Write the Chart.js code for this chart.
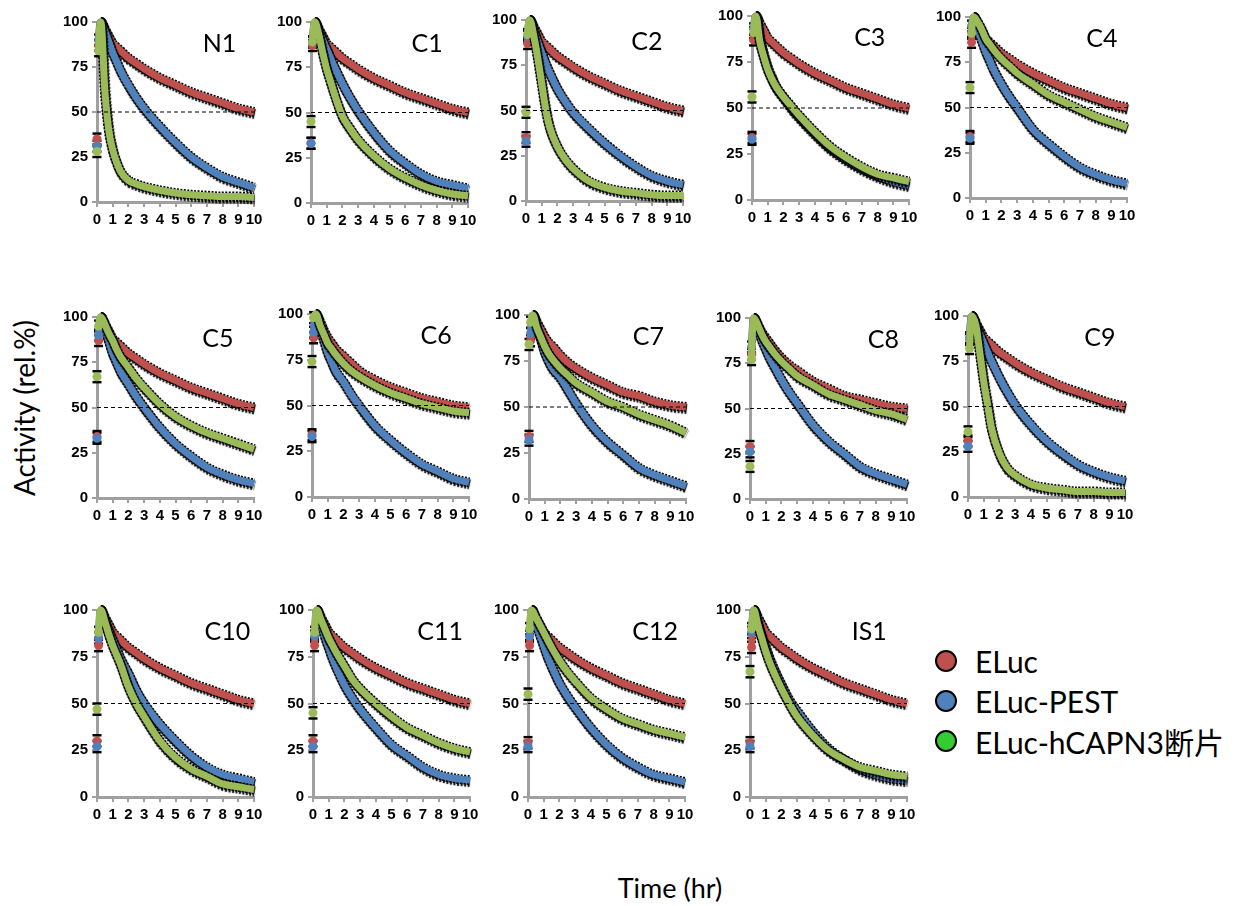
<!DOCTYPE html>
<html>
<head>
<meta charset="utf-8">
<script src="https://cdn.jsdelivr.net/npm/chart.js@4.4.1/dist/chart.umd.min.js"></script>
<style>
  body { margin: 0; background: #fff; width: 1239px; height: 906px; position: relative; overflow: hidden; font-family: Lato, "Liberation Sans", "Noto Sans CJK JP", sans-serif; }
  .panel { position: absolute; }
  .ytitle { position: absolute; left: 24px; top: 408px; transform: translate(-50%, -50%) rotate(-90deg); font-size: 28px; white-space: nowrap; color: #000; }
  .xtitle { position: absolute; left: 670px; top: 887px; transform: translate(-50%, -50%); font-size: 27px; white-space: nowrap; color: #000; }
  .legend { position: absolute; left: 935px; top: 641px; }
  .legend div { height: 40px; display: flex; align-items: center; font-size: 30px; white-space: nowrap; }
  .legend span.dot { display: inline-block; width: 18px; height: 18px; border: 2px solid #000; border-radius: 50%; margin-right: 18px; }
</style>
</head>
<body>
<div class="ytitle">Activity (rel.%)</div>
<div class="xtitle">Time (hr)</div>
<div class="legend" id="legend"></div>
<script>
// sampling times (hr) shared by every series
const hours = [0, 0.1, 0.25, 0.5, 0.75, 1, 1.25, 1.5, 2, 2.5, 3, 4, 5, 6, 7, 8, 9, 10];
const xTicks = [0, 1, 2, 3, 4, 5, 6, 7, 8, 9, 10];
const yTicks = [0, 25, 50, 75, 100];
const halfLine = [50, 50];
const capErr = [3, 3];

const seriesNames = ['ELuc', 'ELuc-PEST', 'ELuc-hCAPN3断片'];
const panelNames = ['N1', 'C1', 'C2', 'C3', 'C4', 'C5', 'C6', 'C7', 'C8', 'C9', 'C10', 'C11', 'C12', 'IS1'];

const n1Red   = [35, 87, 100, 96, 92, 88, 86, 84, 80, 77, 74, 69, 65, 61, 58, 55, 52, 50];
const n1Blue  = [31, 90, 100, 95, 89, 83, 78, 73, 65, 58, 52, 42, 33, 25, 19, 14, 11, 8];
const n1Green = [28, 84, 100, 62, 40, 29, 22, 17, 12, 10, 8.5, 6.5, 5, 4, 3.5, 3, 3, 2.5];

const c1Red   = [33, 87, 100, 96, 92, 88, 86, 84, 80, 77, 74, 69, 65, 61, 58, 55, 52, 50];
const c1Blue  = [33, 89, 100, 95, 90, 85, 80, 75, 66, 58, 51, 39, 29, 22, 16, 12, 10, 8];
const c1Green = [45, 89, 100, 93, 83, 74, 67, 60, 48, 41, 35, 26, 19, 14, 10, 7, 5, 4];

const c2Red   = [35, 87, 100, 96, 92, 88, 86, 84, 80, 77, 74, 69, 65, 61, 58, 55, 52, 50];
const c2Blue  = [33, 91, 100, 94, 88, 82, 76, 71, 62, 55, 49, 40, 32, 25, 19, 14, 11, 9];
const c2Green = [49, 92, 100, 91, 79, 65, 51, 41, 30, 23, 18, 11, 7.5, 5.5, 4.5, 3.5, 3, 3];

const c3Red   = [34, 87, 100, 96, 92, 88, 86, 84, 80, 77, 74, 69, 65, 61, 58, 55, 52, 50];
const c3Blue  = [33, 93, 100, 88, 79, 72, 67, 62, 56, 50, 45, 36, 28, 22, 17, 13, 10, 8];
const c3Green = [56, 91, 100, 86, 78, 71, 66, 62, 56, 51, 46, 37, 29, 23, 18, 14, 12, 10];

const c4Red   = [34, 86, 100, 96, 92, 88, 86, 84, 80, 77, 74, 69, 65, 61, 58, 55, 52, 50];
const c4Blue  = [33, 95, 100, 93, 87, 81, 76, 71, 63, 56, 50, 38, 30, 23, 17, 13, 10, 8];
const c4Green = [61, 91, 100, 97, 93, 88, 85, 82, 77, 73, 69, 63, 57, 53, 49, 45, 42, 39];

const c5Red   = [34, 87, 100, 96, 92, 88, 86, 84, 80, 77, 74, 69, 65, 61, 58, 55, 52, 50];
const c5Blue  = [33, 90, 100, 94, 87, 80, 75, 70, 63, 56, 50, 39, 30, 23, 17, 13, 10, 8];
const c5Green = [67, 95, 100, 96, 91, 87, 82, 78, 72, 66, 61, 52, 45, 40, 36, 33, 30, 27];

const c6Red   = [34, 87, 100, 96, 91, 87, 84, 81, 77, 73, 69, 64, 60, 57, 54, 52, 50, 49];
const c6Blue  = [33, 90, 100, 93, 86, 79, 74, 69, 63, 56, 50, 39, 31, 24, 18, 14, 10, 8];
const c6Green = [74, 98, 100, 94, 89, 84, 81, 78, 73, 69, 66, 61, 57, 54, 51, 49, 47, 46];

const c7Red   = [34, 86, 100, 96, 92, 88, 85, 83, 78, 74, 71, 66, 62, 58, 56, 53, 51, 50];
const c7Blue  = [32, 90, 100, 93, 87, 80, 75, 71, 66, 59, 52, 40, 31, 24, 17, 13, 10, 7];
const c7Green = [84, 96, 100, 93, 88, 83, 79, 76, 71, 67, 63, 58, 53, 50, 46, 43, 40, 36];

const c8Red   = [29, 80, 100, 96, 92, 89, 86, 83, 78, 74, 71, 65, 61, 57, 55, 53, 51, 50];
const c8Blue  = [26, 84, 100, 94, 88, 83, 78, 74, 66, 59, 53, 41, 32, 25, 18, 14, 11, 8];
const c8Green = [18, 77, 100, 96, 91, 87, 84, 81, 76, 72, 68, 63, 58, 55, 52, 49, 47, 44];

const c9Red   = [31, 87, 100, 96, 92, 88, 86, 84, 80, 77, 74, 69, 65, 61, 58, 55, 52, 50];
const c9Blue  = [28, 88, 100, 95, 90, 85, 80, 75, 66, 58, 51, 40, 31, 24, 18, 14, 11, 9];
const c9Green = [36, 82, 100, 95, 80, 64, 51, 38, 24, 16, 12, 7, 5, 4, 3, 3, 2.5, 2.5];

const c10Red   = [30, 81, 100, 96, 92, 88, 86, 84, 80, 77, 74, 69, 65, 61, 58, 55, 52, 50];
const c10Blue  = [27, 85, 100, 94, 89, 84, 79, 74, 66, 57, 50, 39, 30, 22, 16, 12, 10, 8];
const c10Green = [47, 88, 100, 94, 87, 81, 76, 71, 59, 50, 43, 30, 21, 15, 11, 7, 5.5, 4];

const c11Red   = [30, 81, 100, 96, 92, 88, 86, 84, 80, 77, 74, 69, 65, 61, 58, 55, 52, 50];
const c11Blue  = [27, 86, 100, 93, 86, 80, 74, 69, 60, 53, 47, 37, 28, 22, 16, 12, 10, 9];
const c11Green = [45, 88, 100, 95, 90, 85, 81, 77, 70, 63, 58, 50, 43, 37, 33, 29, 26, 24];

const c12Red   = [29, 81, 100, 96, 92, 88, 86, 84, 80, 77, 74, 69, 65, 61, 58, 55, 52, 50];
const c12Blue  = [27, 86, 100, 93, 87, 81, 75, 70, 61, 54, 48, 37, 28, 21, 16, 12, 10, 8];
const c12Green = [55, 90, 100, 96, 92, 88, 84, 80, 73, 67, 62, 53, 47, 42, 39, 36, 34, 32];

const is1Red   = [29, 80, 100, 96, 92, 88, 86, 84, 80, 77, 74, 69, 65, 61, 58, 55, 52, 50];
const is1Blue  = [27, 88, 100, 93, 86, 80, 74, 69, 60, 52, 46, 35, 26, 20, 15, 12, 10, 9];
const is1Green = [67, 90, 100, 92, 85, 78, 72, 67, 58, 50, 43, 33, 25, 20, 16, 14, 12, 11];

const panelSeries = [
  [n1Red, n1Blue, n1Green], [c1Red, c1Blue, c1Green], [c2Red, c2Blue, c2Green],
  [c3Red, c3Blue, c3Green], [c4Red, c4Blue, c4Green], [c5Red, c5Blue, c5Green],
  [c6Red, c6Blue, c6Green], [c7Red, c7Blue, c7Green], [c8Red, c8Blue, c8Green],
  [c9Red, c9Blue, c9Green], [c10Red, c10Blue, c10Green], [c11Red, c11Blue, c11Green],
  [c12Red, c12Blue, c12Green], [is1Red, is1Blue, is1Green]
];

const lineColors = ['#C0504D', '#4F81BD', '#9BBB59'];
const legendColors = ['#C0504D', '#4F81BD', '#33CC33'];

// [y-axis x, plot top, plot height, label x fraction]
const boxes = [
  [97, 21, 181, 0.78], [311, 21, 182, 0.74], [526, 19, 182, 0.77], [752, 15, 185, 0.75], [970, 16, 182, 0.84],
  [97, 316, 182, 0.77], [312, 313, 184, 0.79], [529, 314, 185, 0.76], [750, 317, 182, 0.85], [968, 315, 182, 0.84],
  [97, 609, 188, 0.83], [313, 609, 188, 0.81], [528, 609, 188, 0.81], [750, 609, 188, 0.76]
];
const plotW = 157;

// black offset "shadow" on the error-bar underlay, heavier on the lower side
const curveShadow = {
  id: 'curveShadow',
  beforeDatasetDraw(chart, args) {
    if (chart.data.datasets[args.index].label !== 'bars') return;
    const ctx = chart.ctx;
    ctx.save();
    ctx.shadowColor = '#000';
    ctx.shadowOffsetX = 0.8;
    ctx.shadowOffsetY = 2;
    ctx.shadowBlur = 1;
  },
  afterDatasetDraw(chart, args) {
    if (chart.data.datasets[args.index].label !== 'bars') return;
    chart.ctx.restore();
  }
};

// error caps for the first two readings
const earlyCaps = {
  id: 'earlyCaps',
  beforeDatasetsDraw(chart) {
    const { ctx, scales: { x, y } } = chart;
    ctx.save();
    ctx.strokeStyle = '#000';
    ctx.lineWidth = 2.5;
    chart.data.datasets.forEach(ds => {
      if (!seriesNames.includes(ds.label)) return;
      for (let i = 0; i < 2; i++) {
        const p = ds.data[i];
        const px = x.getPixelForValue(p.x);
        [p.y + capErr[i], p.y - capErr[i]].forEach(v => {
          const py = y.getPixelForValue(v);
          ctx.beginPath();
          ctx.moveTo(px - 4.5, py);
          ctx.lineTo(px + 4.5, py);
          ctx.stroke();
        });
      }
    });
    ctx.restore();
  }
};

const panelTag = {
  id: 'panelTag',
  afterDraw(chart, args, opts) {
    const { ctx, chartArea } = chart;
    ctx.save();
    ctx.font = '25px Lato, "Liberation Sans", sans-serif';
    ctx.fillStyle = '#000';
    ctx.textAlign = 'center';
    ctx.textBaseline = 'middle';
    ctx.fillText(opts.text, chartArea.left + opts.fx * (chartArea.right - chartArea.left), chartArea.top + 22);
    ctx.restore();
  }
};

const tickFont = { family: '"Liberation Sans", Arial, sans-serif', size: 15, weight: 'bold' };
const hideFirst = { borderColor: c => c.p0DataIndex === 0 ? 'transparent' : undefined };
const hideRise = { borderColor: c => c.p0DataIndex <= 1 ? 'transparent' : undefined };

panelNames.forEach((name, p) => {
  const [ax, top, h, fx] = boxes[p];
  const wrap = document.createElement('div');
  wrap.className = 'panel';
  wrap.style.left = (ax - 50) + 'px';
  wrap.style.top = (top - 12) + 'px';
  const cv = document.createElement('canvas');
  cv.width = 50 + plotW + 14;
  cv.height = 12 + h + 34;
  wrap.appendChild(cv);
  document.body.appendChild(wrap);

  const datasets = [];
  panelSeries[p].forEach((vals, s) => {
    const pts = hours.map((t, i) => ({ x: t, y: vals[i] }));
    // black jagged band standing in for the per-point error bars
    datasets.push({
      label: 'bars',
      data: pts,
      borderColor: '#000',
      borderWidth: 10,
      borderDash: [2, 1.5],
      cubicInterpolationMode: 'monotone',
      pointRadius: 0,
      segment: hideRise,
      clip: false,
      order: 2 - s + 0.5
    });
    datasets.push({
      label: seriesNames[s],
      data: pts,
      borderColor: lineColors[s],
      backgroundColor: lineColors[s],
      borderWidth: 7,
      cubicInterpolationMode: 'monotone',
      pointRadius: c => c.dataIndex < 2 ? 4.5 : 0,
      pointBorderWidth: 0,
      pointBackgroundColor: lineColors[s],
      segment: hideFirst,
      clip: false,
      order: 2 - s
    });
  });
  datasets.push({
    label: 'ref',
    data: [{ x: 0, y: halfLine[0] }, { x: 10, y: halfLine[1] }],
    borderColor: '#000',
    borderWidth: 1,
    borderDash: [4, 3],
    pointRadius: 0,
    order: -1
  });

  new Chart(cv, {
    type: 'line',
    data: { datasets },
    plugins: [curveShadow, earlyCaps, panelTag],
    options: {
      responsive: false,
      animation: false,
      events: [],
      layout: { padding: { top: 12, right: 14, left: 0, bottom: 0 } },
      plugins: { legend: { display: false }, tooltip: { enabled: false }, panelTag: { text: name, fx } },
      scales: {
        x: {
          type: 'linear', min: 0, max: 10,
          afterBuildTicks: s => { s.ticks = xTicks.map(v => ({ value: v })); },
          afterFit: s => { s.height = 34; },
          border: { color: '#a0a0a0', width: 3 },
          grid: { drawOnChartArea: false, drawTicks: true, tickLength: 5, color: '#a0a0a0', lineWidth: 2 },
          ticks: { autoSkip: false, maxRotation: 0, padding: 4, color: '#000', font: tickFont }
        },
        y: {
          min: 0, max: 100,
          afterBuildTicks: s => { s.ticks = yTicks.map(v => ({ value: v })); },
          afterFit: s => { s.width = 50; },
          border: { color: '#a0a0a0', width: 3 },
          grid: { drawOnChartArea: false, drawTicks: true, tickLength: 5, color: '#a0a0a0', lineWidth: 2 },
          ticks: { padding: 4, color: '#000', font: tickFont }
        }
      }
    }
  });
});

const legend = document.getElementById('legend');
seriesNames.forEach((n, i) => {
  const row = document.createElement('div');
  row.innerHTML = '<span class="dot" style="background:' + legendColors[i] + '"></span>' + n;
  legend.appendChild(row);
});
</script>
</body>
</html>
